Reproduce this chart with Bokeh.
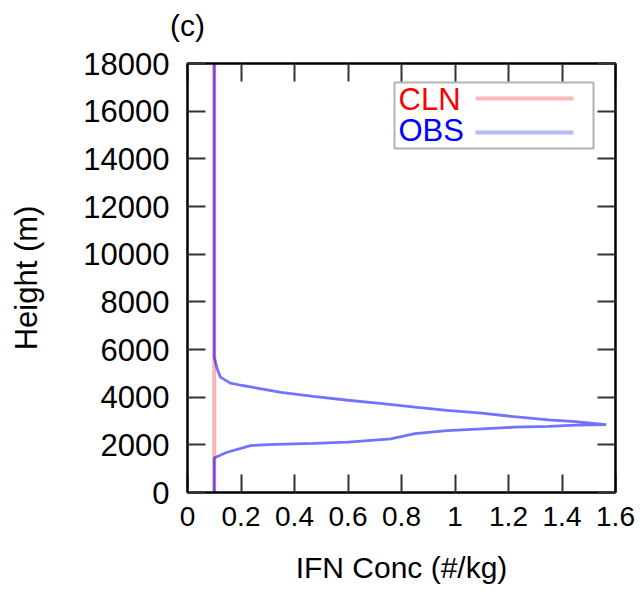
from bokeh.plotting import figure
from bokeh.models import Range1d, FixedTicker, LinearAxis, BoxAnnotation, Label
from bokeh.embed import file_html
from bokeh.resources import INLINE

# ---- data ----
obs_height = [0, 1450, 1480, 1690, 1970, 2010, 2060, 2110, 2250, 2470, 2600, 2670,
              2740, 2775, 2830, 2850, 2970, 3050, 3180, 3330, 3450, 3580, 3740,
              3870, 4030, 4200, 4380, 4500, 4590, 4840, 5190, 5680, 18000]
obs_conc = [0.1, 0.1, 0.105, 0.148, 0.235, 0.30, 0.47, 0.60, 0.76, 0.85, 0.97, 1.10,
            1.22, 1.35, 1.45, 1.565, 1.45, 1.35, 1.22, 1.10, 0.97, 0.85, 0.72,
            0.60, 0.47, 0.35, 0.26, 0.20, 0.16, 0.123, 0.111, 0.1, 0.1]
cln_height = [0, 18000]
cln_conc = [0.1, 0.1]

x_ticks = [0, 0.2, 0.4, 0.6, 0.8, 1.0, 1.2, 1.4, 1.6]
x_tick_labels = ["0", "0.2", "0.4", "0.6", "0.8", "1", "1.2", "1.4", "1.6"]
y_ticks = [0, 2000, 4000, 6000, 8000, 10000, 12000, 14000, 16000, 18000]
y_tick_labels = ["0", "2000", "4000", "6000", "8000", "10000", "12000", "14000", "16000", "18000"]

panel_tag = "(c)"
series_names = ["CLN", "OBS"]
FONT = "Liberation Sans"

p = figure(width=640, height=595, output_backend="svg", toolbar_location=None,
           x_range=Range1d(0, 1.6), y_range=Range1d(0, 18000),
           min_border_left=187, min_border_right=25, min_border_top=63, min_border_bottom=103)
p.grid.visible = False
p.outline_line_color = "black"
p.outline_line_width = 2
p.background_fill_color = "white"
p.border_fill_color = "white"

p.line(cln_conc, cln_height, line_color="#ff0000", line_alpha=0.3, line_width=4)
p.line(obs_conc, obs_height, line_color="#0000ff", line_alpha=0.55, line_width=2.8)

def style_axis(ax, ticks, labels, show_labels):
    ax.ticker = FixedTicker(ticks=ticks)
    ax.major_label_overrides = {t: (l if show_labels else "") for t, l in zip(ticks, labels)}
    ax.major_tick_in = 18
    ax.major_tick_out = 0
    ax.major_tick_line_width = 2
    ax.major_tick_line_color = "#333333"
    ax.minor_tick_line_color = None
    ax.axis_line_color = "black"
    ax.axis_line_width = 2
    ax.major_label_text_font = FONT
    ax.major_label_text_color = "black"
    ax.axis_label_text_font = FONT
    ax.axis_label_text_font_style = "normal"
    ax.axis_label_text_color = "black"

xa = p.xaxis[0]
style_axis(xa, x_ticks, x_tick_labels, True)
xa.major_label_text_font_size = "28px"
xa.major_label_standoff = 14
xa.axis_label = "IFN Conc (#/kg)"
xa.axis_label_text_font_size = "30px"
xa.axis_label_standoff = 22

ya = p.yaxis[0]
style_axis(ya, y_ticks, y_tick_labels, True)
ya.major_label_text_font_size = "31px"
ya.major_label_standoff = 18
ya.axis_label = "Height (m)"
ya.axis_label_text_font_size = "31px"
ya.axis_label_standoff = 36

ra = LinearAxis()
style_axis(ra, y_ticks, y_tick_labels, False)
ra.major_label_text_font_size = "0px"
ra.major_label_standoff = 0
p.add_layout(ra, "right")

# top mirror axis; its label slot at the left corner carries the panel tag "(c)"
ta = LinearAxis()
style_axis(ta, x_ticks, x_tick_labels, False)
ta.major_label_overrides = {t: (panel_tag if i == 0 else "") for i, t in enumerate(x_ticks)}
ta.major_label_text_font_size = "30px"
ta.major_label_standoff = 22
p.add_layout(ta, "above")

# legend (gnuplot style: label left, sample right)
p.add_layout(BoxAnnotation(left=207, right=406, bottom=344, top=410,
                           left_units="screen", right_units="screen",
                           bottom_units="screen", top_units="screen",
                           fill_color="white", fill_alpha=1.0,
                           line_color="black", line_width=2))
p.add_layout(Label(x=211, y=393, x_units="screen", y_units="screen", text=series_names[0],
                   text_font=FONT, text_font_size="31px", text_color="#ff0000",
                   text_baseline="alphabetic"))
p.add_layout(Label(x=211, y=362, x_units="screen", y_units="screen", text=series_names[1],
                   text_font=FONT, text_font_size="31px", text_color="#0000ff",
                   text_baseline="alphabetic"))
p.add_layout(BoxAnnotation(left=288, right=386, bottom=392, top=396,
                           left_units="screen", right_units="screen",
                           bottom_units="screen", top_units="screen",
                           fill_color="#ff0000", fill_alpha=0.28, line_color=None))
p.add_layout(BoxAnnotation(left=288, right=386, bottom=358, top=362,
                           left_units="screen", right_units="screen",
                           bottom_units="screen", top_units="screen",
                           fill_color="#0000ff", fill_alpha=0.28, line_color=None))

open("out.html", "w").write(file_html(p, INLINE))
